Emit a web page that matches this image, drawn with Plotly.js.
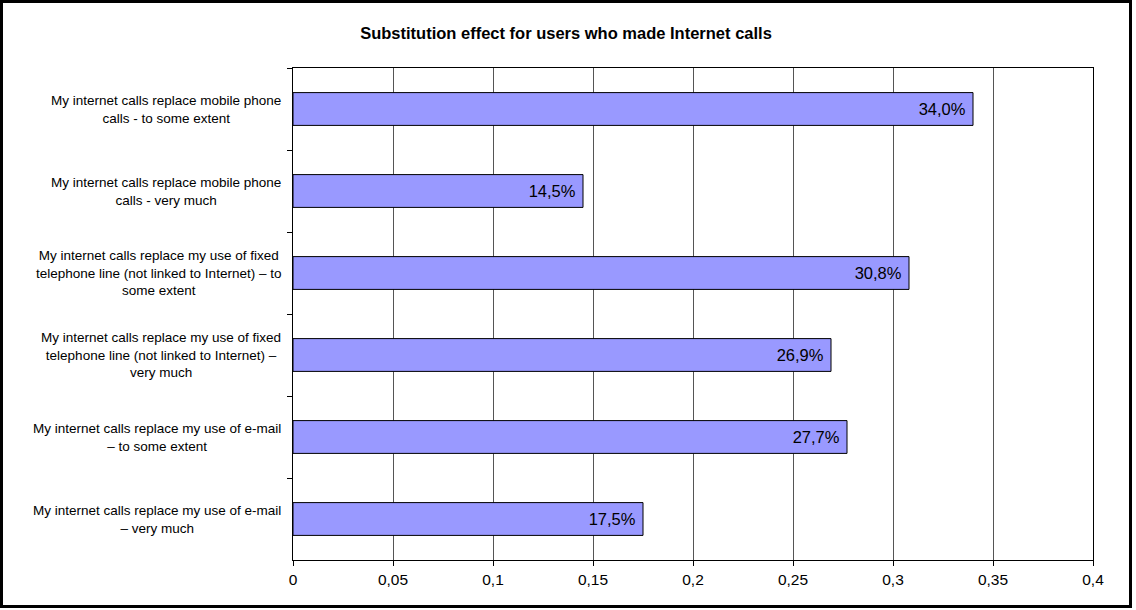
<!DOCTYPE html>
<html>
<head>
<meta charset="utf-8">
<script src="https://cdn.plot.ly/plotly-3.0.1.min.js"></script>
<style>
  html, body { margin: 0; padding: 0; background: #fff; }
  #frame { position: absolute; left: 0; top: 0; width: 1126px; height: 602px; border: 3px solid #000; background: #fff; }
  #chart { width: 1126px; height: 602px; }
</style>
</head>
<body>
<div id="frame"><div id="chart"></div></div>
<script>
const categories = [
  "My internet calls replace mobile phone<br>calls - to some extent",
  "My internet calls replace mobile phone<br>calls - very much",
  "My internet calls replace my use of fixed<br>telephone line (not linked to Internet) \u2013 to<br>some extent",
  "My internet calls replace my use of fixed<br>telephone line (not linked to Internet) \u2013<br>very much",
  "My internet calls replace my use of e-mail<br>\u2013 to some extent",
  "My internet calls replace my use of e-mail<br>\u2013 very much"
];
const values = [0.340, 0.145, 0.308, 0.269, 0.277, 0.175];
const chartTitle = "Substitution effect for users who made Internet calls";

const FONT = "Arial, 'Liberation Sans', sans-serif";

const trace = {
  type: "bar",
  orientation: "h",
  y: categories,
  x: values,
  marker: { color: "#9999FF", line: { color: "#000000", width: 1 } },
  width: 0.4,
  texttemplate: "%{x:.1%} ",
  textposition: "inside",
  insidetextanchor: "end",
  textangle: 0,
  constraintext: "none",
  insidetextfont: { family: FONT, size: 16.5, color: "#000000" },
  hoverinfo: "x+y"
};

const annotations = categories.map((c) => ({
  xref: "paper", yref: "y",
  x: -0.0125, y: c,
  xanchor: "right", yanchor: "middle",
  align: "center",
  text: c,
  showarrow: false,
  font: { family: FONT, size: 13.5, color: "#000000" }
}));

const layout = {
  width: 1126, height: 602,
  margin: { l: 290, r: 36, t: 65, b: 45 },
  paper_bgcolor: "#ffffff",
  plot_bgcolor: "#ffffff",
  separators: ", ",
  showlegend: false,
  font: { family: FONT, color: "#000000" },
  title: {
    text: "<b>" + chartTitle + "</b>",
    xref: "container", x: 0.5, xanchor: "center",
    yref: "container", y: 1 - 30 / 602, yanchor: "middle",
    font: { family: FONT, size: 16.5, color: "#000000" }
  },
  xaxis: {
    range: [0, 0.4],
    dtick: 0.05,
    tick0: 0,
    showgrid: true,
    gridcolor: "#555555",
    gridwidth: 1,
    showline: true,
    linecolor: "#000000",
    linewidth: 1,
    mirror: true,
    ticks: "outside",
    ticklen: 5,
    tickcolor: "#000000",
    zeroline: false,
    tickfont: { family: FONT, size: 15.5, color: "#000000" },
    fixedrange: true
  },
  yaxis: {
    type: "category",
    autorange: "reversed",
    showticklabels: false,
    showgrid: false,
    showline: true,
    linecolor: "#000000",
    linewidth: 1,
    mirror: true,
    ticks: "outside",
    tickson: "boundaries",
    ticklen: 5,
    tickcolor: "#000000",
    zeroline: false,
    fixedrange: true
  },
  annotations: annotations
};

Plotly.newPlot("chart", [trace], layout, { displayModeBar: false, staticPlot: true });
</script>
</body>
</html>
